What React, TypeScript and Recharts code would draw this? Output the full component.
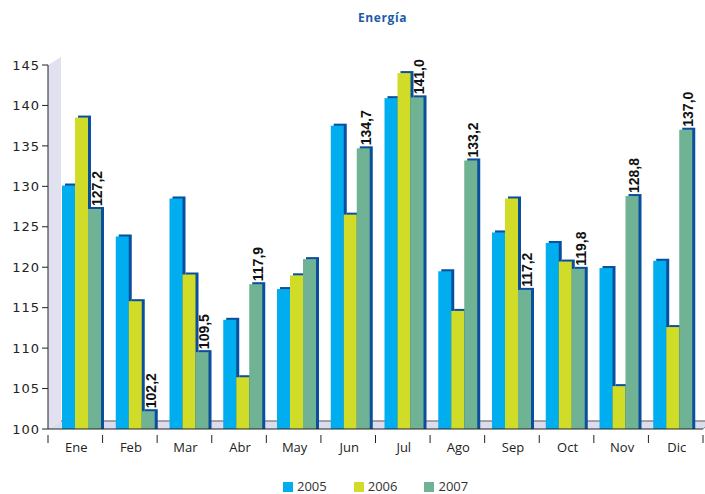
import React from 'react';
import { BarChart, Bar, XAxis, YAxis, LabelList, ReferenceArea } from 'recharts';

const months = ['Ene', 'Feb', 'Mar', 'Abr', 'May', 'Jun', 'Jul', 'Ago', 'Sep', 'Oct', 'Nov', 'Dic'];
const s2005 = [130.1, 123.8, 128.5, 113.5, 117.3, 137.5, 140.9, 119.5, 124.3, 123.0, 119.9, 120.8];
const s2006 = [138.5, 115.8, 119.1, 106.4, 119.0, 126.5, 144.0, 114.6, 128.5, 120.7, 105.3, 112.6];
const s2007 = [127.2, 102.2, 109.5, 117.9, 121.0, 134.7, 141.0, 133.2, 117.2, 119.8, 128.8, 137.0];
// etiquetas que aparecen sobre las barras de 2007 (mayo no tiene)
const labels2007 = ['127,2', '102,2', '109,5', '117,9', '', '134,7', '141,0', '133,2', '117,2', '119,8', '128,8', '137,0'];
const yTicks = [100, 105, 110, 115, 120, 125, 130, 135, 140, 145];

const series = [
  { key: 'y2005', name: '2005', color: '#00aeef' },
  { key: 'y2006', name: '2006', color: '#d0dc28' },
  { key: 'y2007', name: '2007', color: '#6fb394' },
];

const data = months.map((m, i) => ({
  month: m,
  y2005: s2005[i],
  y2006: s2006[i],
  y2007: s2007[i],
  label: labels2007[i],
}));

const W = 705;
const H = 494;
const M = { top: 65, right: 2, left: 0, bottom: 35 };
const Y_W = 48;
const HALF_BAND = (W - M.left - M.right - Y_W) / months.length / 2;
const DARK = '#0a4f9e';
const FONT = '"Open Sans", "DejaVu Sans", sans-serif';

// barra con efecto 3D (sombra azul oscuro desplazada)
const Bar3D = (props: any) => {
  const { x, y, width, height, fill } = props;
  if (height == null || height <= 0) return null;
  return (
    <g>
      <rect x={x + 3} y={y - 2} width={width} height={height + 2} fill={DARK} />
      <rect x={x} y={y} width={width} height={height} fill={fill} />
    </g>
  );
};

// pared izquierda y suelo
const Floor = (props: any) => {
  const { x, y, width, height } = props;
  const b = y + height;
  const r = x + width;
  return (
    <g>
      <polygon points={`${x},${y} ${x + 13},${y - 8} ${x + 13},${b - 8} ${x},${b}`} fill="#e1e1f1" />
      <polygon points={`${x},${b} ${x + 13},${b - 8} ${r + 9},${b - 8} ${r},${b}`} fill="#dcdcee" />
      <line x1={x + 13} y1={b - 8} x2={r + 9} y2={b - 8} stroke="#8a8a8a" strokeWidth={1.5} />
      <line x1={r} y1={b} x2={r + 9} y2={b - 8} stroke="#8a8a8a" strokeWidth={1} />
    </g>
  );
};

const MonthTick = (props: any) => {
  const { x, y, payload, index } = props;
  return (
    <g>
      {index === 0 && <line x1={x - HALF_BAND} y1={y - 2} x2={x - HALF_BAND} y2={y + 6} stroke="#222" />}
      <line x1={x + HALF_BAND} y1={y - 2} x2={x + HALF_BAND} y2={y + 6} stroke="#222" />
      <text x={x + 1} y={y + 15} textAnchor="middle" fontSize={13} fontFamily={FONT} fill="#222">
        {payload.value}
      </text>
    </g>
  );
};

const ValueLabel = (props: any) => {
  const { x, y, value } = props;
  if (!value) return null;
  const cx = x + 9;
  const cy = y - 3;
  return (
    <text
      x={cx}
      y={cy}
      transform={`rotate(-90, ${cx}, ${cy})`}
      textAnchor="start"
      dominantBaseline="central"
      fontSize={14}
      fontWeight="bold"
      fontFamily='"Liberation Sans", Arial, sans-serif'
      fill="#111"
    >
      {value}
    </text>
  );
};

export default function App() {
  return (
    <div style={{ position: 'absolute', left: 0, top: 0, width: W, height: H, background: '#fff' }}>
      <div
        style={{
          position: 'absolute',
          top: 9,
          left: 0,
          width: W,
          paddingLeft: 60,
          boxSizing: 'border-box',
          textAlign: 'center',
          fontFamily: FONT,
          fontWeight: 'bold',
          fontSize: 12,
          letterSpacing: 0.6,
          color: '#1d5ba8',
        }}
      >
        Energía
      </div>
      <BarChart width={W} height={H} data={data} margin={M} barGap={0} barSize={13}>
        <XAxis
          xAxisId="months"
          dataKey="month"
          height={30}
          interval={0}
          tickLine={false}
          axisLine={{ stroke: '#222' }}
          tick={<MonthTick />}
        />
        <XAxis xAxisId="bars" dataKey="month" hide height={0} padding={{ left: 7, right: 3 }} />
        <YAxis
          width={Y_W}
          domain={[100, 145]}
          ticks={yTicks}
          allowDataOverflow
          interval={0}
          tickSize={6}
          tickLine={{ stroke: '#222' }}
          axisLine={{ stroke: '#222' }}
          tick={{ fontSize: 13, fill: '#222', fontFamily: '"DejaVu Sans", sans-serif', letterSpacing: 1 }}
        />
        <ReferenceArea xAxisId="months" y1={100} y2={145} shape={<Floor />} ifOverflow="visible" />
        {series.map((s) => (
          <Bar
            key={s.key}
            xAxisId="bars"
            dataKey={s.key}
            name={s.name}
            fill={s.color}
            shape={<Bar3D />}
            isAnimationActive={false}
          >
            {s.key === 'y2007' && <LabelList dataKey="label" content={<ValueLabel />} />}
          </Bar>
        ))}
      </BarChart>
      <div
        style={{
          position: 'absolute',
          top: 478,
          left: 283,
          display: 'flex',
          alignItems: 'center',
          fontFamily: FONT,
          fontSize: 13,
          lineHeight: '17px',
          color: '#333',
        }}
      >
        {series.map((s) => (
          <div key={s.key} style={{ display: 'flex', alignItems: 'center', marginRight: 27 }}>
            <span style={{ display: 'inline-block', width: 10, height: 10, background: s.color, marginRight: 4 }} />
            <span>{s.name}</span>
          </div>
        ))}
      </div>
    </div>
  );
}
